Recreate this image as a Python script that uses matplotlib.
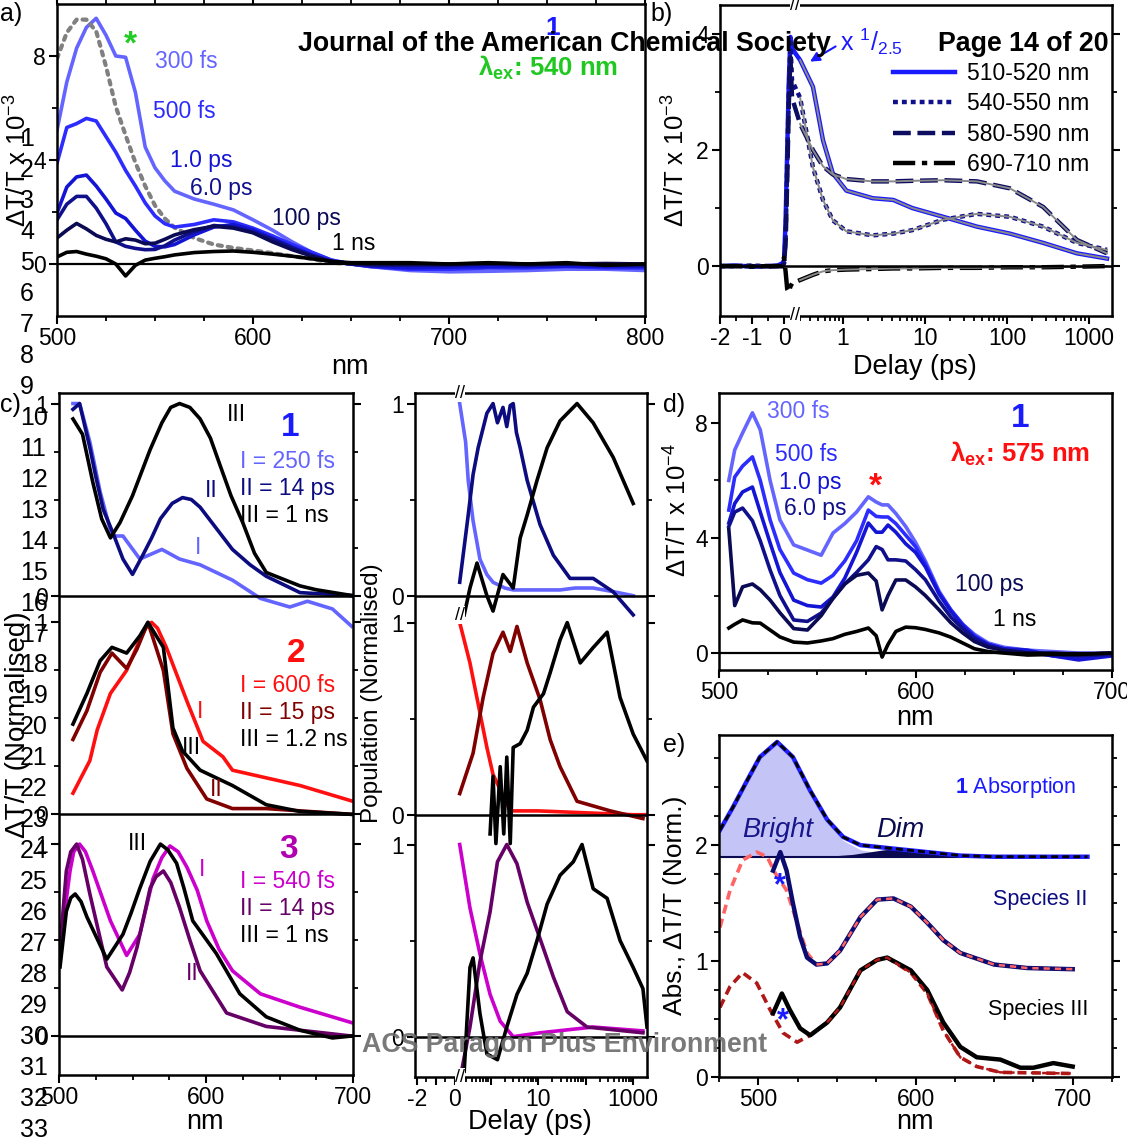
import numpy as np
import matplotlib
matplotlib.use("Agg")
import matplotlib.pyplot as plt
from matplotlib.ticker import FixedLocator, FixedFormatter, NullFormatter, MultipleLocator

plt.rcParams['font.family'] = ['Liberation Sans', 'DejaVu Sans']
plt.rcParams['mathtext.fontset'] = 'custom'
plt.rcParams['mathtext.rm'] = 'Liberation Sans'
plt.rcParams['mathtext.it'] = 'Liberation Sans:italic'
plt.rcParams['mathtext.bf'] = 'Liberation Sans:bold'

# ---------------- panel a: spectra, excitation 540 nm (x 1e-3)
a_nm = [500, 505, 510, 515, 520, 525, 530, 535, 540, 545, 550, 555, 560, 570, 580,
        590, 600, 610, 620, 630, 640, 650, 660, 680, 700, 720, 740, 760, 780, 800]
a_300fs = [5.15, 7.0, 8.3, 9.1, 9.45, 8.8, 8.0, 7.95, 6.6, 4.5, 3.7, 3.2, 2.8, 2.5, 2.3,
           2.08, 1.7, 1.3, 0.85, 0.45, 0.15, 0.0, -0.1, -0.25, -0.3, -0.28, -0.25, -0.2, -0.2, -0.25]
a_500fs = [3.88, 5.25, 5.4, 5.6, 5.5, 4.9, 4.3, 3.6, 3.0, 2.35, 1.85, 1.55, 1.42, 1.52, 1.7,
           1.62, 1.38, 1.08, 0.75, 0.45, 0.15, 0.0, -0.1, -0.2, -0.2, -0.15, -0.15, -0.1, -0.15, -0.15]
a_1ps = [1.96, 2.96, 3.35, 3.42, 3.0, 2.5, 1.96, 1.75, 1.3, 0.88, 0.68, 0.66, 0.75, 1.12, 1.42,
         1.52, 1.31, 0.98, 0.65, 0.35, 0.1, 0.0, -0.08, -0.15, -0.12, -0.1, -0.1, -0.08, -0.1, -0.1]
a_6ps = [1.7, 2.3, 2.6, 2.6, 2.15, 1.55, 0.85, 0.68, 0.6, 0.55, 0.56, 0.7, 0.92, 1.25, 1.48,
         1.42, 1.22, 0.95, 0.62, 0.33, 0.1, 0.0, -0.05, -0.05, -0.05, 0.0, -0.05, 0.0, -0.05, -0.05]
a_100ps = [1.0, 1.3, 1.56, 1.35, 1.1, 0.95, 0.85, 0.97, 0.92, 0.78, 0.8, 0.95, 1.12, 1.32, 1.45,
           1.38, 1.2, 0.85, 0.55, 0.3, 0.1, 0.02, 0.0, 0.0, 0.0, 0.02, 0.0, 0.0, 0.02, 0.0]
a_1ns = [0.27, 0.45, 0.48, 0.38, 0.3, 0.2, 0.0, -0.46, -0.05, 0.15, 0.22, 0.28, 0.35, 0.44, 0.48,
         0.5, 0.45, 0.38, 0.3, 0.2, 0.1, 0.05, 0.05, 0.05, 0.0, 0.05, 0.0, 0.05, -0.05, 0.0]
a_abs_nm = [500, 505, 510, 515, 520, 525, 530, 535, 540, 545, 550, 555, 560, 570, 580,
            590, 600, 610, 620, 630, 640, 650]
a_abs = [7.9, 8.9, 9.4, 9.4, 8.95, 7.6, 6.05, 4.95, 3.9, 3.0, 2.25, 1.75, 1.4, 1.0, 0.75,
         0.62, 0.52, 0.42, 0.3, 0.2, 0.05, 0.0]

# ---------------- panel b: kinetics (x 1e-3)
b_t_lin = [-2, -1.5, -1, -0.5, -0.2, -0.05, 0.0, 0.05, 0.1, 0.15, 0.2, 0.25]
b_t_log = [0.3, 0.43, 0.57, 0.75, 1.1, 2.3, 4.1, 7, 16.6, 43, 108, 275, 710, 1650]
b_510_lin = [0.0, 0.01, -0.01, 0.0, 0.01, 0.05, 0.1, 0.8, 2.0, 3.2, 3.95, 3.75]
b_510_log = [3.55, 3.09, 2.17, 1.6, 1.3, 1.17, 1.14, 1.0, 0.85, 0.68, 0.56, 0.4, 0.22, 0.13]
b_540_lin = [0.0, 0.0, 0.01, 0.0, 0.0, 0.0, 0.05, 0.5, 1.8, 3.0, 3.85, 3.2]
b_540_log = [2.9, 1.7, 1.14, 0.79, 0.6, 0.53, 0.56, 0.62, 0.8, 0.9, 0.85, 0.68, 0.4, 0.28]
b_580_lin = [0.0, 0.0, 0.0, -0.01, 0.0, 0.0, 0.05, 0.4, 1.5, 2.8, 3.6, 2.9]
b_580_log = [2.45, 2.0, 1.72, 1.58, 1.5, 1.46, 1.46, 1.47, 1.48, 1.46, 1.34, 1.02, 0.45, 0.22]
b_690_lin = [0.0, 0.0, -0.01, 0.0, 0.0, 0.0, 0.15, -0.1, -0.4, -0.45, -0.35, -0.3]
b_690_log = [-0.24, -0.15, -0.09, -0.07, -0.06, -0.05, -0.04, -0.04, -0.03, -0.03, -0.02, -0.02, -0.01, 0.0]
b_labels = ['510-520 nm', '540-550 nm', '580-590 nm', '690-710 nm']

# ---------------- panel c: species spectra (normalised)
c1_I_nm = [509.5, 514, 521, 528, 536, 543.5, 555, 570, 582, 596, 618, 637, 657, 669, 686, 699]
c1_I = [1.0, 1.0, 0.8, 0.54, 0.31, 0.31, 0.19, 0.24, 0.19, 0.16, 0.08, -0.015, -0.06, -0.03, -0.07, -0.16]
c1_II_nm = [509.5, 514, 521, 525, 530, 537, 543.5, 550, 557, 563, 569, 577, 584, 590, 596, 607, 618,
            630, 641, 664, 699]
c1_II = [0.97, 1.0, 0.77, 0.62, 0.45, 0.32, 0.19, 0.11, 0.21, 0.3, 0.4, 0.48, 0.51, 0.5, 0.46, 0.35, 0.24,
         0.16, 0.1, 0.015, 0.0]
c1_III_nm = [509.5, 516, 523, 529, 535, 541.5, 550, 556, 562, 570, 576, 582, 589, 596, 603, 609.5, 617,
             625, 633, 641, 664, 675, 699]
c1_III = [0.92, 0.84, 0.59, 0.4, 0.30, 0.38, 0.52, 0.64, 0.76, 0.9, 0.98, 1.0, 0.98, 0.92, 0.82, 0.68, 0.52,
          0.38, 0.22, 0.12, 0.05, 0.03, 0.0]

c2_I_nm = [509.5, 521, 526, 535, 546, 555, 559, 563, 567, 573, 587, 598, 611.5, 618, 641, 664, 699]
c2_I = [0.11, 0.28, 0.44, 0.63, 0.75, 0.91, 0.97, 1.0, 0.97, 0.87, 0.59, 0.38, 0.3, 0.23, 0.19, 0.15, 0.07]
c2_II_nm = [509.5, 519, 528, 536, 546, 553, 560.5, 571, 577.5, 587, 600.5, 618, 641, 699]
c2_II = [0.39, 0.54, 0.74, 0.84, 0.76, 0.86, 1.0, 0.75, 0.42, 0.24, 0.08, 0.03, 0.03, 0.0]
c2_III_nm = [509.5, 519, 528, 536, 546, 555, 560.5, 571, 577.5, 584, 596, 618, 641, 664, 699]
c2_III = [0.47, 0.63, 0.8, 0.87, 0.84, 0.93, 1.0, 0.87, 0.45, 0.33, 0.23, 0.15, 0.05, 0.015, 0.0]

c3_I_nm = [500.7, 507.5, 510, 514, 518, 523, 535, 546, 555, 564, 570, 575.5, 581, 587, 594, 600.5, 609,
           618, 637, 664, 699]
c3_I = [0.46, 0.86, 0.96, 1.0, 0.96, 0.86, 0.6, 0.42, 0.53, 0.82, 0.93, 0.99, 0.96, 0.88, 0.76, 0.6, 0.45,
        0.34, 0.22, 0.15, 0.07]
c3_II_nm = [500.7, 505, 508, 512, 516, 521, 532.5, 543, 548, 553, 562, 566, 571, 576, 582, 589, 596, 614,
            641, 699]
c3_II = [0.46, 0.86, 0.96, 1.0, 0.92, 0.74, 0.36, 0.24, 0.33, 0.46, 0.77, 0.83, 0.86, 0.8, 0.67, 0.5, 0.34,
         0.12, 0.05, 0.0]
c3_III_nm = [500.7, 505, 508, 511, 515, 519, 532.5, 543.5, 549, 555, 562, 569, 574, 580, 585, 591, 607,
             623, 641, 664, 686, 699]
c3_III = [0.36, 0.65, 0.72, 0.74, 0.7, 0.62, 0.4, 0.53, 0.64, 0.77, 0.91, 1.0, 0.97, 0.9, 0.77, 0.6, 0.43,
          0.22, 0.1, 0.03, -0.01, 0.0]

# ---------------- middle: populations (normalised)
m1_I_t = [0.25, 0.3, 0.34, 0.43, 0.6, 0.84, 1.13, 2, 3, 10, 29, 60, 144, 400, 1000]
m1_I = [1.0, 0.8, 0.6, 0.39, 0.19, 0.11, 0.07, 0.04, 0.03, 0.03, 0.03, 0.04, 0.04, 0.02, 0.0]
m1_II_t = [0.25, 0.34, 0.43, 0.55, 0.84, 1.13, 1.4, 1.83, 2.2, 2.6, 3, 3.5, 4.2, 5.9, 11, 21, 47, 144, 380, 1000]
m1_II = [0.07, 0.42, 0.63, 0.77, 0.95, 1.0, 0.9, 0.98, 0.88, 0.99, 1.0, 0.85, 0.77, 0.6, 0.37, 0.21, 0.09, 0.09, 0.02, -0.1]
m1_III_t = [0.28, 0.37, 0.52, 0.84, 1.13, 1.83, 3, 4.2, 5.9, 9.5, 15.5, 29, 66, 144, 380, 1000]
m1_III = [-0.1, 0.04, 0.17, 0.0, -0.08, 0.11, 0.04, 0.3, 0.42, 0.6, 0.77, 0.91, 1.0, 0.9, 0.72, 0.48]

m2_I_t = [0.25, 0.37, 0.6, 0.84, 1.13, 2.6, 10, 100, 1000, 1900]
m2_I = [1.0, 0.79, 0.53, 0.35, 0.21, 0.02, 0.02, 0.01, 0.0, 0.0]
m2_II_t = [0.25, 0.43, 0.7, 1.13, 1.83, 2.6, 3.6, 5.9, 11, 18, 29, 66, 330, 1600]
m2_II = [0.11, 0.32, 0.61, 0.84, 0.95, 0.85, 0.98, 0.79, 0.6, 0.39, 0.25, 0.07, 0.02, -0.02]
m2_III_t = [0.98, 1.13, 1.3, 1.6, 1.9, 2.2, 2.6, 3, 4.2, 5.9, 8, 13, 18, 29, 41, 77, 144, 283, 530, 1000, 1950]
m2_III = [-0.1, 0.2, -0.15, 0.25, -0.1, 0.3, -0.15, 0.35, 0.37, 0.44, 0.56, 0.63, 0.74, 0.91, 1.0, 0.79,
          0.87, 0.95, 0.61, 0.42, 0.28]

m3_I_t = [0.25, 0.37, 0.6, 0.98, 1.6, 3, 11, 144, 1600]
m3_I = [1.0, 0.67, 0.43, 0.22, 0.08, 0.0, 0.02, 0.05, 0.03]
m3_II_t = [0.25, 0.37, 0.6, 0.98, 1.4, 2.2, 3.6, 5.9, 11, 21, 41, 107, 1600]
m3_II = [-0.23, 0.05, 0.39, 0.65, 0.91, 1.0, 0.9, 0.7, 0.51, 0.31, 0.13, 0.05, 0.02]
m3_III_t = [0.28, 0.37, 0.43, 0.6, 0.84, 1.4, 2.2, 3.6, 5.9, 9.5, 15.5, 29, 55, 84, 144, 283, 530, 1000, 1600, 1950]
m3_III = [-0.18, 0.36, 0.41, 0.12, -0.09, -0.12, 0.05, 0.22, 0.33, 0.5, 0.69, 0.84, 0.91, 1.0, 0.77, 0.72,
          0.5, 0.36, 0.25, 0.05]

# ---------------- panel d: spectra, excitation 575 nm (x 1e-4)
d_nm = [505, 508, 512, 517, 521, 526, 531, 538, 545, 552, 558, 564, 570, 576, 580, 583, 586, 590,
        595, 600, 605, 612, 618, 624, 630, 637, 645, 657, 670, 683, 700]
d_300fs = [6.0, 7.06, 7.65, 8.35, 7.76, 6.0, 4.63, 3.76, 3.58, 3.4, 4.17, 4.5, 4.9, 5.43, 5.25, 5.15, 5.15,
           4.85, 4.4, 3.85, 3.2, 2.15, 1.5, 1.0, 0.65, 0.35, 0.2, 0.1, 0.05, 0.0, 0.0]
d_500fs = [4.97, 6.12, 6.5, 6.82, 6.0, 4.63, 3.6, 2.78, 2.55, 2.43, 2.7, 3.2, 3.9, 4.97, 4.75, 4.73, 4.73,
           4.5, 4.1, 3.7, 3.1, 2.1, 1.5, 1.0, 0.6, 0.3, 0.15, 0.03, -0.1, -0.17, -0.05]
d_1ps = [4.52, 5.2, 5.6, 5.77, 4.9, 3.83, 2.8, 1.84, 1.65, 1.6, 1.95, 2.6, 3.5, 4.52, 4.2, 4.2, 4.45,
         4.2, 3.8, 3.5, 3.0, 2.05, 1.45, 0.95, 0.55, 0.3, 0.15, 0.1, -0.1, -0.24, -0.1]
d_6ps = [4.4, 4.9, 5.04, 4.6, 3.9, 2.89, 2.0, 1.15, 1.1, 1.39, 1.9, 2.4, 2.8, 3.24, 3.7, 3.6, 3.24,
         3.24, 3.2, 2.9, 2.55, 1.8, 1.25, 0.85, 0.5, 0.25, 0.1, 0.0, -0.05, -0.1, -0.05]
d_100ps = [4.3, 1.65, 2.3, 2.4, 2.2, 1.84, 1.4, 0.85, 0.8, 1.3, 1.9, 2.4, 2.7, 2.78, 2.5, 1.5, 2.0,
           2.54, 2.54, 2.3, 2.0, 1.5, 1.05, 0.7, 0.4, 0.2, 0.1, 0.0, 0.0, -0.05, 0.0]
d_1ns = [0.87, 1.0, 1.15, 1.05, 1.04, 0.8, 0.56, 0.38, 0.35, 0.42, 0.5, 0.65, 0.75, 0.87, 0.6, -0.14, 0.3,
         0.75, 0.9, 0.88, 0.82, 0.7, 0.55, 0.35, 0.15, 0.05, 0.0, -0.07, -0.05, -0.05, 0.0]

# ---------------- panel e: absorption vs species spectra
e_abs_nm = [475.6, 484, 493, 501, 512, 522, 533, 543.8, 554, 565, 586, 607.5, 628.5, 650, 709.4]
e_abs = [2.13, 2.33, 2.56, 2.76, 2.89, 2.76, 2.47, 2.22, 2.07, 2.0, 1.97, 1.94, 1.91, 1.9, 1.9]
e_base = 1.9
e_bright_nm = [475.6, 484, 493, 501, 512, 522, 533, 543.8, 554, 565, 580, 600]
e_bright = [2.13, 2.33, 2.56, 2.76, 2.89, 2.76, 2.47, 2.22, 2.04, 1.96, 1.92, 1.9]
e_dim_nm = [540, 560, 580, 590, 610, 630, 660]
e_dim = [1.9, 1.92, 1.96, 1.97, 1.95, 1.92, 1.9]
e_II_nm = [509.4, 514, 518, 522, 526.6, 531, 537, 543.8, 552, 565, 575.6, 586, 597, 607.5, 617.7, 628.5,
           650, 671, 700]
e_II = [1.78, 1.94, 1.78, 1.5, 1.21, 1.03, 0.97, 0.98, 1.09, 1.38, 1.53, 1.54, 1.47, 1.33, 1.18, 1.07,
        0.97, 0.94, 0.93]
e_IIa_nm = [475.6, 482, 490, 499, 505.6, 510.7, 518, 524.7, 531, 537, 543.8, 552, 565, 575.6, 586, 597,
            607.5, 617.7, 628.5, 650, 671, 700]
e_IIa = [1.29, 1.61, 1.87, 1.94, 1.9, 1.76, 1.61, 1.33, 1.07, 0.97, 0.98, 1.09, 1.38, 1.53, 1.54, 1.47,
         1.33, 1.18, 1.07, 0.97, 0.94, 0.93]
e_III_nm = [509.4, 515, 520, 526.6, 533, 543.8, 552, 565, 575.6, 582, 597, 607.5, 617.7, 628.5, 639, 654,
            666.7, 675, 687.7, 700]
e_III = [0.55, 0.72, 0.58, 0.42, 0.36, 0.47, 0.6, 0.92, 1.01, 1.03, 0.92, 0.75, 0.47, 0.26, 0.17, 0.15,
         0.08, 0.08, 0.12, 0.09]
e_IIIa_nm = [475.6, 482, 490, 499, 507.5, 515.8, 524.7, 533, 543.8, 552, 565, 575.6, 582, 597, 607.5,
             617.7, 628.5, 639, 654, 700]
e_IIIa = [0.6, 0.78, 0.9, 0.81, 0.58, 0.38, 0.3, 0.36, 0.47, 0.6, 0.92, 1.01, 1.03, 0.9, 0.72, 0.4,
          0.17, 0.09, 0.04, 0.03]

# ---------------- colours
LB, B5, B1, B6, NV = '#6464ff', '#2c2cff', '#1414d4', '#10108c', '#0a0a55'
NAVY = '#0c0c80'
RED, DRED = '#ff1010', '#800000'
MAG, PUR = '#cc00cc', '#660066'

W, H = 1127, 1137
fig = plt.figure(figsize=(W / 100, H / 100), dpi=100)

FS = 16.5      # annotations and ticks
FL = 19.5      # axis labels


def box(l, t, r, b):
    return [l / W, 1 - b / H, (r - l) / W, (b - t) / H]


def ftext(x, y, s, **kw):
    kw.setdefault('va', 'center')
    kw.setdefault('fontsize', FS)
    fig.text(x / W, 1 - y / H, s, **kw)


def style(ax):
    for sp in ax.spines.values():
        sp.set_linewidth(1.8)
    ax.tick_params(which='major', direction='out', length=6, width=1.5, labelsize=FS, pad=2)
    ax.tick_params(which='minor', direction='out', length=3.5, width=1.3)


def broken_scale(B, G, GAP):
    def fwd(x):
        x = np.asarray(x, float)
        lg = B + GAP + G * (np.log10(np.maximum(x, B)) - np.log10(B))
        return np.where(x <= B, x, lg)

    def inv(y):
        y = np.asarray(y, float)
        lg = 10 ** ((np.maximum(y, B + GAP) - B - GAP) / G + np.log10(B))
        return np.where(y <= B, y, np.where(y < B + GAP, B, lg))
    return fwd, inv


log_minor = [0.3, 0.4, 0.5, 0.6, 0.7, 0.8, 0.9] + [m * 10 ** k for k in range(0, 4) for m in range(2, 10)]
LW = 2.6

# ================= panel a
ax = fig.add_axes(box(57, 4, 645, 316))
style(ax)
ax.plot(a_nm, a_300fs, color=LB, lw=LW)
ax.plot(a_abs_nm, a_abs, color='#808080', lw=3, ls=(0, (1, 1.4)), dash_capstyle='round')
ax.plot(a_nm, a_500fs, color=B5, lw=LW)
ax.plot(a_nm, a_1ps, color=B1, lw=LW)
ax.plot(a_nm, a_6ps, color=B6, lw=LW)
ax.plot(a_nm, a_100ps, color=NV, lw=LW)
ax.plot(a_nm, a_1ns, color='k', lw=LW)
ax.axhline(0, color='k', lw=1.6)
ax.set_xlim(500, 800)
ax.set_ylim(-2, 10)
ax.set_xticks([500, 600, 700, 800])
ax.xaxis.set_minor_locator(MultipleLocator(25))
ax.set_yticks([0, 4, 8])
ax.yaxis.set_minor_locator(FixedLocator([2, 6]))
ax.tick_params(which='both', top=True)

# ================= panel b
ax = fig.add_axes(box(720, 5, 1112, 316))
style(ax)
fb = broken_scale(0.25, 2.5625, 0.05)
ax.set_xscale('function', functions=fb)
b_t = b_t_lin + b_t_log
ax.plot(b_t, b_510_lin + b_510_log, color='#1a1aff', lw=3.2, label=b_labels[0])
ax.plot(b_t, b_540_lin + b_540_log, color='#10108c', lw=3.2, ls=(0, (1.1, 0.9)), label=b_labels[1])
ax.plot(b_t, b_580_lin + b_580_log, color='#0c0c60', lw=3.2, ls=(0, (4, 1.5)), label=b_labels[2])
ax.plot(b_t, b_690_lin + b_690_log, color='k', lw=3.2, ls=(0, (5, 1.5, 1.2, 1.5)), label=b_labels[3])
for ys in (b_510_log, b_540_log, b_580_log, b_690_log):
    ax.plot(b_t_log, ys, color='#8a8a8a', lw=1.4)
ax.axhline(0, color='k', lw=1.8)
ax.set_xlim(-2, 1900)
ax.set_ylim(-0.86, 4.5)
ax.xaxis.set_major_locator(FixedLocator([-2, -1, 0, 1, 10, 100, 1000]))
ax.xaxis.set_major_formatter(FixedFormatter(['-2', '-1', '0', '1', '10', '100', '1000']))
ax.xaxis.set_minor_locator(FixedLocator([-1.5, -0.5] + log_minor))
ax.xaxis.set_minor_formatter(NullFormatter())
ax.set_yticks([0, 2, 4])
ax.yaxis.set_minor_locator(FixedLocator([1, 3]))
ax.tick_params(axis='y', which='both', right=True)
ax.legend(loc='upper left', bbox_to_anchor=(893 / W, 1 - 62 / H), bbox_transform=fig.transFigure,
          frameon=False, fontsize=FS, handlelength=2.7, handletextpad=0.55, labelspacing=0.32,
          borderpad=0, borderaxespad=0)
ax.annotate('', xy=(0.37, 3.5), xycoords='data',
            xytext=(838 / W, 1 - 45 / H), textcoords='figure fraction',
            arrowprops=dict(arrowstyle='-|>', color='#1a1aff', lw=1.5, mutation_scale=14))

# ================= panel c (three stacked sets, offset)
OFF = [2.295, 1.155, 0.0]
ax = fig.add_axes(box(59, 393, 353, 1075))
style(ax)
sets_c = [
    [(c1_I_nm, c1_I, LB), (c1_II_nm, c1_II, NAVY), (c1_III_nm, c1_III, 'k')],
    [(c2_I_nm, c2_I, RED), (c2_II_nm, c2_II, DRED), (c2_III_nm, c2_III, 'k')],
    [(c3_I_nm, c3_I, MAG), (c3_II_nm, c3_II, PUR), (c3_III_nm, c3_III, 'k')],
]
for off, curves in zip(OFF, sets_c):
    for xs, ys, col in curves:
        ax.plot(xs, np.array(ys) + off, color=col, lw=LW)
    ax.axhline(off, color='k', lw=1.8)
ax.set_xlim(500, 700)
ax.set_ylim(-0.203, 3.35)
ax.set_xticks([500, 600, 700])
ax.xaxis.set_minor_locator(MultipleLocator(25))
yt = [v for o in OFF for v in (o, o + 1)]
ax.yaxis.set_major_locator(FixedLocator(yt))
ax.yaxis.set_major_formatter(FixedFormatter(['0', '1'] * 3))
ax.yaxis.set_minor_locator(FixedLocator([o + f for o in OFF for f in (0.25, 0.5, 0.75)]))
ax.tick_params(axis='y', which='both', right=True)

# ================= middle: populations
ax = fig.add_axes(box(415, 393, 647, 1077))
style(ax)
fm = broken_scale(0.25, 2.5, 0.113)
ax.set_xscale('function', functions=fm)
sets_m = [
    [(m1_I_t, m1_I, LB), (m1_II_t, m1_II, NAVY), (m1_III_t, m1_III, 'k')],
    [(m2_I_t, m2_I, RED), (m2_II_t, m2_II, DRED), (m2_III_t, m2_III, 'k')],
    [(m3_I_t, m3_I, MAG), (m3_II_t, m3_II, PUR), (m3_III_t, m3_III, 'k')],
]
for off, curves in zip(OFF, sets_m):
    for xs, ys, col in curves:
        ax.plot(xs, np.array(ys) + off, color=col, lw=LW)
    ax.axhline(off, color='k', lw=1.8)
ax.set_xlim(-2.1, 1950)
ax.set_ylim(-0.21, 3.35)
ax.xaxis.set_major_locator(FixedLocator([-2, -1, 0, 1, 10, 100, 1000]))
ax.xaxis.set_major_formatter(FixedFormatter(['-2', '', '0', '', '10', '', '1000']))
ax.xaxis.set_minor_locator(FixedLocator([-1.5, -0.5] + log_minor))
ax.xaxis.set_minor_formatter(NullFormatter())
ax.yaxis.set_major_locator(FixedLocator(yt))
ax.yaxis.set_major_formatter(FixedFormatter(['0', '1'] * 3))
ax.yaxis.set_minor_locator(FixedLocator([o + 0.5 for o in OFF]))
ax.tick_params(axis='y', which='both', right=True)

# ================= panel d
ax = fig.add_axes(box(719, 393, 1112, 670))
style(ax)
ax.plot(d_nm, d_300fs, color=LB, lw=LW)
ax.plot(d_nm, d_500fs, color=B5, lw=LW)
ax.plot(d_nm, d_1ps, color=B1, lw=LW)
ax.plot(d_nm, d_6ps, color=B6, lw=LW)
ax.plot(d_nm, d_100ps, color=NV, lw=LW)
ax.plot(d_nm, d_1ns, color='k', lw=LW)
ax.axhline(0, color='k', lw=1.6)
ax.set_xlim(500, 700)
ax.set_ylim(-0.59, 9.04)
ax.set_xticks([500, 600, 700])
ax.xaxis.set_minor_locator(MultipleLocator(25))
ax.set_yticks([0, 4, 8])
ax.yaxis.set_minor_locator(FixedLocator([2, 6]))

# ================= panel e
ax = fig.add_axes(box(719, 735, 1112, 1077))
style(ax)
ax.fill_between(e_bright_nm, e_base, e_bright, color='#c4c4f6', lw=0)
ax.fill_between(e_dim_nm, e_base, e_dim, color='#0a0a50', lw=0)
ax.axhline(e_base, xmin=0, xmax=(709.4 - 475) / 250, color='#0a0a50', lw=1.5)
ax.plot(e_abs_nm, e_abs, color='#2020ff', lw=3.2)
ax.plot(e_abs_nm, e_abs, color='k', lw=2, ls=(0, (2.5, 1.5)))
ax.plot(e_IIa_nm, e_IIa, color='#ff6464', lw=2.6, ls=(0, (2.5, 1.5)))
ax.plot(e_II_nm, e_II, color='#0c0c70', lw=3.2)
ax.plot(e_IIa_nm[9:], e_IIa[9:], color='#ff6464', lw=1.8, ls=(0, (2.5, 2)))
ax.plot(e_IIIa_nm, e_IIIa, color='#b01818', lw=2.6, ls=(0, (2.5, 1.5)))
ax.plot(e_III_nm, e_III, color='k', lw=3.2)
ax.plot(e_IIIa_nm[8:], e_IIIa[8:], color='#b01818', lw=1.8, ls=(0, (2.5, 2)))
ax.set_xlim(475, 725)
ax.set_ylim(0, 2.95)
ax.set_xticks([500, 600, 700])
ax.xaxis.set_minor_locator(MultipleLocator(25))
ax.set_yticks([0, 1, 2])
ax.yaxis.set_minor_locator(MultipleLocator(0.25))
ax.tick_params(axis='y', which='both', right=True)

# ================= texts
# panel a
ftext(0, 14, 'a)', fontsize=18)
ftext(18, 160, 'ΔT/T x 10$^{-3}$', rotation=90, ha='center', fontsize=18.5)
ftext(350, 367, 'nm', ha='center', fontsize=FL)
ftext(155, 61, '300 fs', color=LB)
ftext(153, 112, '500 fs', color=B5)
ftext(170, 161, '1.0 ps', color=B1)
ftext(190, 188, '6.0 ps', color=B6)
ftext(272, 219, '100 ps', color=NV)
ftext(332, 244, '1 ns', color='k')
ftext(130, 45, '*', color='#22cc22', fontsize=24, fontweight='bold', ha='center')
ftext(553, 28, '1', color='#1a1aff', fontsize=19, fontweight='bold', ha='center')
ftext(478, 68, 'λ$_{\\mathbf{ex}}$: 540 nm', color='#22c822', fontsize=18.5, fontweight='bold')

# panel b
ftext(650, 14, 'b)', fontsize=18)
ftext(676, 160, 'ΔT/T x 10$^{-3}$', rotation=90, ha='center', fontsize=18.5)
ftext(915, 367, 'Delay (ps)', ha='center', fontsize=FL)
ftext(840, 42, 'x $^{1}$/$_{2.5}$', color='#1a1aff', fontsize=18)
for yy in (5, 316):
    ftext(795, yy, '//', ha='center', fontsize=13,
          bbox=dict(facecolor='white', edgecolor='none', pad=0.2))

# panel c
ftext(0, 405, 'c)', fontsize=18)
ftext(18, 725, 'ΔT/T (Normalised)', rotation=90, ha='center', fontsize=20)
ftext(205, 1122, 'nm', ha='center', fontsize=FL)
ftext(227, 415, 'III', color='k')
ftext(205, 490, 'II', color=NAVY)
ftext(195, 548, 'I', color=LB)
ftext(290, 428, '1', color='#1a1aff', fontsize=24, fontweight='bold', ha='center')
ftext(240, 461, 'I = 250 fs', color=LB)
ftext(240, 488, 'II = 14 ps', color=NAVY)
ftext(240, 515, 'III = 1 ns', color='k')
ftext(296, 654, '2', color=RED, fontsize=24, fontweight='bold', ha='center')
ftext(240, 686, 'I = 600 fs', color=RED)
ftext(240, 712, 'II = 15 ps', color=DRED)
ftext(240, 739, 'III = 1.2 ns', color='k')
ftext(197, 712, 'I', color=RED)
ftext(182, 748, 'III', color='k')
ftext(210, 790, 'II', color=DRED)
ftext(289, 849, '3', color='#b000b0', fontsize=24, fontweight='bold', ha='center')
ftext(240, 882, 'I = 540 fs', color=MAG)
ftext(240, 908, 'II = 14 ps', color=PUR)
ftext(240, 935, 'III = 1 ns', color='k')
ftext(128, 843, 'III', color='k')
ftext(199, 869, 'I', color=MAG)
ftext(186, 973, 'II', color=PUR)

# middle
ftext(372, 693, 'Population (Normalised)', rotation=90, ha='center', fontsize=17.5)
ftext(530, 1122, 'Delay (ps)', ha='center', fontsize=FL)
for yy in (393, 615, 1077):
    ftext(460, yy, '//', ha='center', fontsize=13,
          bbox=dict(facecolor='white', edgecolor='none', pad=0.2))

# panel d
ftext(663, 405, 'd)', fontsize=18)
ftext(678, 510, 'ΔT/T x 10$^{-4}$', rotation=90, ha='center', fontsize=18.5)
ftext(915, 718, 'nm', ha='center', fontsize=FL)
ftext(767, 412, '300 fs', color=LB)
ftext(775, 454, '500 fs', color=B5)
ftext(779, 482, '1.0 ps', color=B1)
ftext(784, 508, '6.0 ps', color=B6)
ftext(955, 585, '100 ps', color=NV)
ftext(993, 619, '1 ns', color='k')
ftext(1020, 418, '1', color='#1a1aff', fontsize=24, fontweight='bold', ha='center')
ftext(950, 454, 'λ$_{\\mathbf{ex}}$: 575 nm', color='#ff1010', fontsize=18.5, fontweight='bold')
ftext(875, 487, '*', color='#ff1010', fontsize=24, fontweight='bold', ha='center')

# panel e
ftext(663, 745, 'e)', fontsize=18)
ftext(675, 905, 'Abs., ΔT/T (Norm.)', rotation=90, ha='center', fontsize=19)
ftext(915, 1122, 'nm', ha='center', fontsize=FL)
ftext(742, 830, 'Bright', color='#16168a', fontsize=19.5, style='italic')
ftext(876, 830, 'Dim', color='#0a0a50', fontsize=19.5, style='italic')
ftext(955, 787, '$\\mathbf{1}$ Absorption', color='#1a1aff', fontsize=15.5)
ftext(993, 900, 'Species II', color='#0c0c80', fontsize=15.5)
ftext(988, 1010, 'Species III', color='k', fontsize=15.5)
ftext(780, 886, '*', color='#1a1aff', fontsize=22, fontweight='bold', ha='center')
ftext(783, 1021, '*', color='#1a1aff', fontsize=22, fontweight='bold', ha='center')

# page overlay: header, footer, line numbers
fig.text(298 / W, 1 - 51 / H, 'Journal of the American Chemical Society', fontsize=19.3,
         fontweight='bold', va='baseline')
fig.text(938 / W, 1 - 51 / H, 'Page 14 of 20', fontsize=19.3, fontweight='bold', va='baseline')
fig.text(362 / W, 1 - 1052 / H, 'ACS Paragon Plus Environment', fontsize=19.3, fontweight='bold',
         va='baseline', color='#6e6e6e', alpha=0.92)
for n in range(1, 34):
    fig.text(20 / W, 1 - (139 + (n - 1) * 30.97) / H, str(n), fontsize=18, ha='left', va='center')

fig.savefig('out.png', dpi=100)
